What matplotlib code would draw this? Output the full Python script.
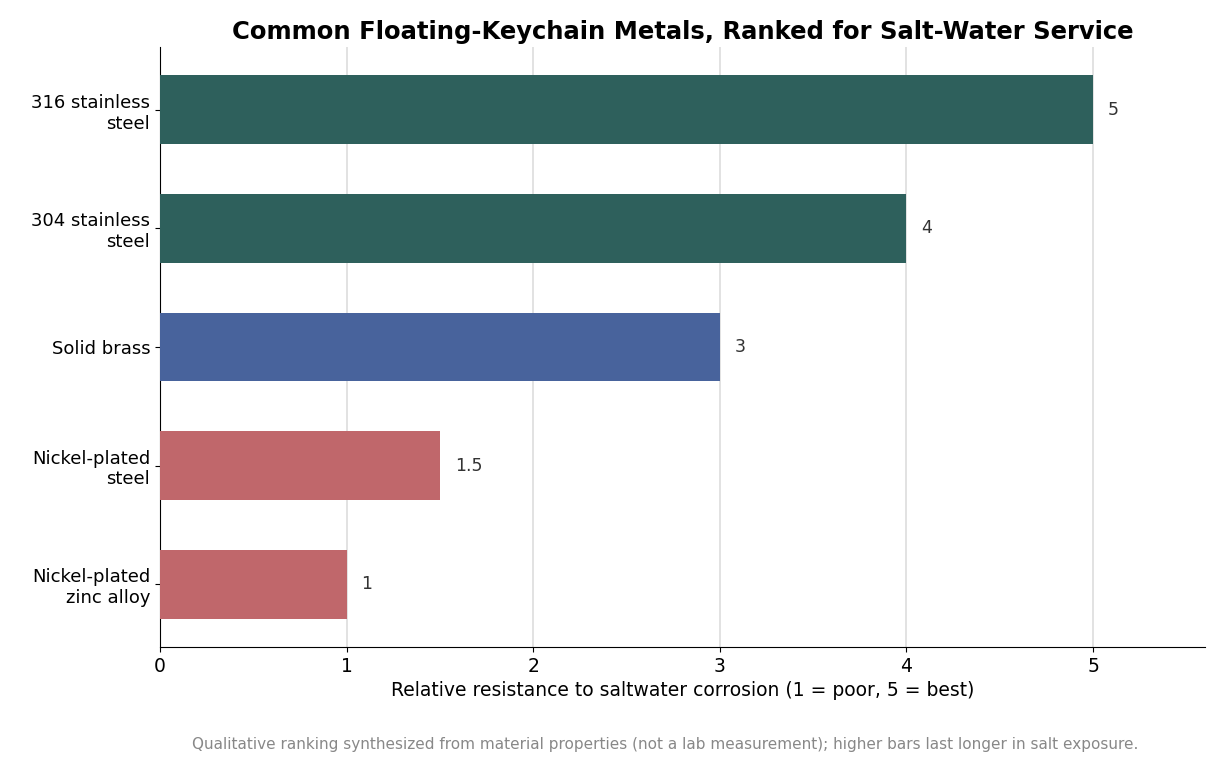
import matplotlib
matplotlib.use("Agg")
import matplotlib.pyplot as plt

categories = ["316 stainless\nsteel", "304 stainless\nsteel", "Solid brass", "Nickel-plated\nsteel", "Nickel-plated\nzinc alloy"]
values = [5, 4, 3, 1.5, 1]
labels = ["5", "4", "3", "1.5", "1"]
colors = ["#2e605c", "#2e605c", "#48639c", "#c0676b", "#c0676b"]

fig = plt.figure(figsize=(12.21, 7.67), dpi=100)
ax = fig.add_axes([160/1221, 1-647/767, (1205-160)/1221, (647-47)/767])
y = list(range(len(categories)))
ax.barh(y, values, height=0.58, color=colors, zorder=3)
for yi, v, t in zip(y, values, labels):
    ax.text(v + 0.08, yi, t, va="center", ha="left", fontsize=12.5, color="#333333")
ax.set_yticks(y)
ax.set_yticklabels(categories, fontsize=13)
ax.invert_yaxis()
ax.set_ylim(4.53, -0.53)
ax.set_xlim(0, 5.6)
ax.set_xticks([0, 1, 2, 3, 4, 5])
ax.tick_params(axis="x", labelsize=13.5)
ax.grid(axis="x", color="#dddddd", linewidth=1.2, zorder=0)
ax.spines["top"].set_visible(False)
ax.spines["right"].set_visible(False)
ax.set_xlabel("Relative resistance to saltwater corrosion (1 = poor, 5 = best)", fontsize=13.5)
ax.set_title("Common Floating-Keychain Metals, Ranked for Salt-Water Service", fontsize=17.5, fontweight="bold", pad=6)
fig.text(0.545, 1-744/767, "Qualitative ranking synthesized from material properties (not a lab measurement); higher bars last longer in salt exposure.",
         ha="center", va="center", fontsize=11, color="#888888")
fig.savefig("out.png", dpi=100)
